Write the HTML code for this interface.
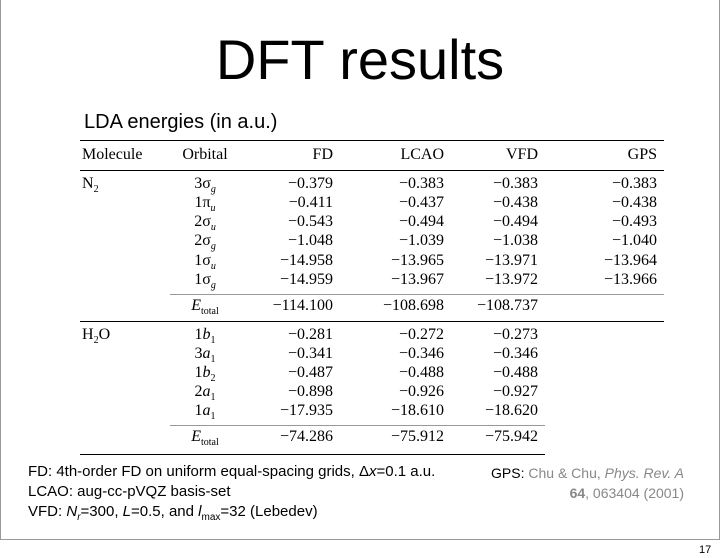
<!DOCTYPE html>
<html><head><meta charset="utf-8"><style>
body{margin:0;width:720px;height:558px;background:#fff;position:relative;overflow:hidden;font-family:"Liberation Sans",sans-serif}
.a{position:absolute;white-space:nowrap}
.t{font-family:"Liberation Serif",serif;font-size:16px;color:#000}
.rule{position:absolute;height:0}
sub{font-size:10px;line-height:0}
</style></head><body>
<div class="a" style="left:0;top:-2px;width:718px;height:541px;border:1px solid #999;border-top:none"></div>
<div class="a" style="left:0;width:720px;top:27px;text-align:center;font-size:56px;color:#000">DFT results</div>
<div class="a" style="left:84px;top:111px;font-size:20px">LDA energies (in a.u.)</div>
<div class="rule" style="left:80px;top:140px;width:584px;border-top:1.5px solid #000"></div>
<div class="rule" style="left:80px;top:170px;width:584px;border-top:1px solid #000"></div>
<div class="rule" style="left:170px;top:294px;width:494px;border-top:1px solid #999"></div>
<div class="rule" style="left:80px;top:321px;width:584px;border-top:1px solid #000"></div>
<div class="rule" style="left:170px;top:425px;width:375px;border-top:1px solid #999"></div>
<div class="rule" style="left:80px;top:454px;width:465px;border-top:1.5px solid #000"></div>
<div id="tbl"></div>
<div class="a" style="left:28px;top:463px;font-size:15px">FD: 4th-order FD on uniform equal-spacing grids, Δ<i>x</i>=0.1 a.u.</div>
<div class="a" style="left:28px;top:483px;font-size:15px">LCAO: aug-cc-pVQZ basis-set</div>
<div class="a" style="left:28px;top:503px;font-size:15px">VFD: <i>N<sub>r</sub></i>=300, <i>L</i>=0.5, and <i>l</i><sub>max</sub>=32 (Lebedev)</div>
<div class="a" style="right:36px;top:463px;font-size:14px;line-height:20px;color:#888;text-align:right"><span style="color:#000">GPS:</span> Chu &amp; Chu, <i>Phys. Rev. A</i><br><b>64</b>, 063404 (2001)</div>
<div class="a" style="left:699px;top:544px;font-size:11px">17</div>
<script>
const headers=["Molecule","Orbital","FD","LCAO","VFD","GPS"];
const orbN2=["3σ<sub><i>g</i></sub>","1π<sub><i>u</i></sub>","2σ<sub><i>u</i></sub>","2σ<sub><i>g</i></sub>","1σ<sub><i>u</i></sub>","1σ<sub><i>g</i></sub>","<i>E</i><sub>total</sub>"];
const n2FD=["−0.379","−0.411","−0.543","−1.048","−14.958","−14.959","−114.100"];
const n2LCAO=["−0.383","−0.437","−0.494","−1.039","−13.965","−13.967","−108.698"];
const n2VFD=["−0.383","−0.438","−0.494","−1.038","−13.971","−13.972","−108.737"];
const n2GPS=["−0.383","−0.438","−0.493","−1.040","−13.964","−13.966",""];
const orbH2O=["1<i>b</i><sub>1</sub>","3<i>a</i><sub>1</sub>","1<i>b</i><sub>2</sub>","2<i>a</i><sub>1</sub>","1<i>a</i><sub>1</sub>","<i>E</i><sub>total</sub>"];
const h2oFD=["−0.281","−0.341","−0.487","−0.898","−17.935","−74.286"];
const h2oLCAO=["−0.272","−0.346","−0.488","−0.926","−18.610","−75.912"];
const h2oVFD=["−0.273","−0.346","−0.488","−0.927","−18.620","−75.942"];
const tbl=document.getElementById('tbl');
function cell(html,x,y,align,name){
  const d=document.createElement('div');
  d.className='a t';
  
  
  d.innerHTML=html;
  d.style.top=(y-14)+'px';
  if(align==='r'){d.style.left=(x-120)+'px';d.style.width='120px';d.style.textAlign='right';}
  else if(align==='c'){d.style.left=(x-50)+'px';d.style.width='100px';d.style.textAlign='center';}
  else d.style.left=x+'px';
  tbl.appendChild(d);
}
const colR=[333,444,538,657];
cell(headers[0],82,160,'l','header-molecule');
cell(headers[1],205,160,'c','header-orbital');
for(let i=0;i<4;i++)cell(headers[i+2],colR[i],160,'r','header-'+headers[i+2].toLowerCase());
const n2Y=[189,208,227,246,266,285,311];
cell("N<sub>2</sub>",82,189,'l','molecule-n2');
n2Y.forEach((y,i)=>{
  cell(orbN2[i],205,y,'c','n2-orbital');
  [n2FD,n2LCAO,n2VFD,n2GPS].forEach((arr,j)=>{ if(arr[i]) cell(arr[i],colR[j],y,'r','n2-value'); });
});
const hY=[340,359,378,397,416,442];
cell("H<sub>2</sub>O",82,340,'l','molecule-h2o');
hY.forEach((y,i)=>{
  cell(orbH2O[i],205,y,'c','h2o-orbital');
  [h2oFD,h2oLCAO,h2oVFD].forEach((arr,j)=>{ cell(arr[i],colR[j],y,'r','h2o-value'); });
});
</script>
</body></html>
